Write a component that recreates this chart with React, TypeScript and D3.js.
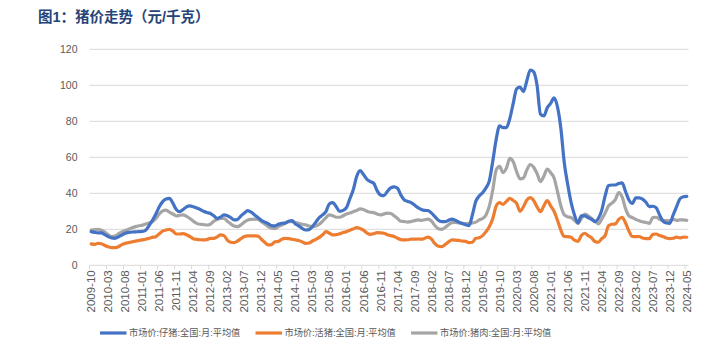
import React from 'react';
import * as d3 from 'd3';

// 月度数据：2009-10 至 2024-05
const startMonth = new Date(Date.UTC(2009, 9, 1));
const endMonth = new Date(Date.UTC(2024, 5, 1)); // exclusive
const months: string[] = d3.utcMonth.range(startMonth, endMonth).map(d => d3.utcFormat('%Y-%m')(d));

const seriesNames = ['市场价:仔猪:全国:月:平均值', '市场价:活猪:全国:月:平均值', '市场价:猪肉:全国:月:平均值'];
const seriesColors = ['#4472C4', '#ED7D31', '#A5A5A5'];

const piglet = [
	18.7, 18.3, 18.0, 18.0, 17.0, 16.0, 15.2, 15.0, 15.8, 16.8, 17.8, 18.2,
	18.5, 18.6, 18.7, 18.8, 19.5, 22.0, 25.0, 28.5, 32.5, 35.4, 36.8, 37.2,
	34.5, 31.0, 29.8, 31.0, 32.5, 33.0, 32.5, 31.8, 31.0, 30.0, 29.3, 28.8,
	27.5, 26.0, 26.8, 28.0, 27.5, 26.5, 25.2, 25.5, 27.5, 29.0, 30.4, 29.5,
	28.0, 26.5, 25.0, 24.0, 23.2, 22.0, 21.9, 22.8, 23.3, 23.5, 24.5, 24.8,
	23.0, 21.9, 20.5, 19.6, 19.8, 21.5, 24.0, 26.5, 28.0, 30.0, 34.2, 34.8,
	32.5, 30.0, 30.5, 32.0, 37.0, 42.0, 49.3, 52.6, 50.5, 47.8, 46.5, 45.6,
	41.5, 39.1, 38.7, 41.0, 43.0, 43.6, 42.8, 39.0, 36.3, 35.5, 34.8, 33.5,
	32.0, 31.0, 30.5, 30.4, 29.0, 27.0, 25.0, 24.3, 24.3, 25.0, 25.7, 25.0,
	24.0, 23.2, 22.5, 22.0, 28.0, 35.5, 38.5, 40.3, 43.0, 47.0, 58.0, 70.0,
	77.5, 76.5, 76.5, 81.5, 90.0, 98.0, 99.0, 96.5, 102.5, 108.5, 107.5, 100.0,
	84.0, 83.0, 87.5, 90.0, 93.0, 88.0, 76.0, 57.0, 45.0, 35.0, 28.0, 23.5,
	27.5, 27.5, 26.5, 25.5, 24.3, 26.0, 30.5, 38.5, 44.3, 44.6, 44.6, 45.5,
	45.8, 41.0, 36.3, 34.4, 37.5, 37.5, 36.8, 35.0, 32.6, 32.8, 32.0, 28.0,
	24.5, 23.5, 23.3, 28.0, 32.6, 37.0, 38.1, 38.3,
];

const liveHog = [
	11.9, 11.6, 12.2, 12.0, 11.0, 10.3, 9.8, 9.8, 10.3, 11.5, 12.2, 12.6,
	13.0, 13.4, 13.8, 14.1, 14.5, 15.0, 15.5, 15.9, 17.5, 19.0, 19.6, 20.0,
	19.0, 17.4, 17.4, 17.6, 17.0, 16.0, 14.8, 14.4, 14.2, 14.1, 14.3, 15.0,
	15.0, 15.8, 16.9, 16.5, 14.0, 12.8, 12.6, 13.5, 14.8, 16.0, 16.3, 16.3,
	16.3, 16.2, 14.5, 12.8, 11.3, 11.5, 13.1, 13.3, 14.5, 15.0, 14.8, 14.5,
	14.1, 13.8, 13.0, 12.2, 12.4, 13.5, 14.4, 15.5, 17.0, 18.7, 17.8, 16.9,
	17.0, 17.5, 18.2, 18.7, 19.5, 20.2, 20.9, 20.5, 19.5, 18.0, 17.2, 17.5,
	18.1, 18.0, 17.8, 17.0, 16.5, 16.0, 15.0, 14.3, 14.1, 14.2, 14.5, 14.5,
	14.6, 14.5, 15.0, 15.6, 14.5, 12.0, 10.6, 10.4, 11.5, 13.0, 14.1, 14.0,
	13.8, 13.5, 13.3, 12.6, 12.8, 15.0, 15.3, 16.5, 18.7, 21.5, 26.0, 33.0,
	34.8, 33.9, 35.5, 37.2, 36.0, 34.4, 30.0, 32.5, 36.3, 37.6, 36.0, 32.5,
	29.8, 33.0, 36.0, 33.0, 30.0, 25.0, 19.5, 16.0, 15.9, 15.5, 14.0, 13.3,
	16.5, 17.8, 16.5, 15.3, 13.2, 12.8, 14.8, 16.5, 22.0, 22.8, 23.0, 25.5,
	26.7, 23.5, 19.0, 16.0, 15.9, 16.0, 15.2, 14.8, 14.8, 17.2, 17.4, 16.5,
	16.0, 15.2, 14.8, 15.0, 15.6, 15.2, 15.7, 15.6,
];

const pork = [
	19.6, 19.8, 20.0, 19.5, 18.5, 17.0, 16.0, 16.2, 17.5, 18.5, 19.3, 20.0,
	20.8, 21.5, 22.0, 22.3, 23.0, 23.5, 24.3, 26.0, 28.5, 30.2, 30.7, 29.5,
	28.5, 27.4, 27.8, 28.0, 27.2, 26.0, 24.5, 23.3, 22.8, 22.6, 22.4, 22.8,
	24.5, 25.5, 26.0, 26.0, 24.5, 23.0, 21.8, 21.5, 22.5, 24.0, 25.2, 25.5,
	25.6, 25.5, 24.3, 23.0, 21.5, 20.6, 20.4, 21.5, 22.4, 23.3, 24.3, 24.3,
	23.8, 23.3, 22.8, 22.5, 21.8, 21.5, 21.8, 22.8, 24.5, 26.5, 28.0, 27.5,
	26.7, 26.7, 27.5, 28.5, 29.0, 29.8, 30.5, 31.3, 31.0, 30.0, 29.5, 29.3,
	28.5, 28.0, 28.5, 29.0, 28.8, 27.5, 26.0, 24.5, 24.3, 24.0, 24.3, 24.8,
	25.2, 25.0, 25.3, 25.6, 24.5, 22.0, 20.3, 20.0, 21.0, 22.5, 23.7, 23.8,
	23.5, 23.3, 23.2, 23.3, 23.5, 24.0, 25.2, 26.0, 28.0, 33.0, 42.0, 53.0,
	55.0, 51.5, 54.0, 59.4, 57.5, 52.0, 48.0, 48.5, 53.0, 56.0, 54.5, 51.0,
	46.5, 49.5, 53.5, 51.5, 48.5, 41.0, 33.0, 28.0, 27.0, 26.5, 25.0, 23.3,
	26.0, 28.5, 27.5, 26.2, 24.5, 23.0, 25.6, 29.0, 33.0, 34.5, 36.5, 40.4,
	38.0, 31.5, 27.5, 26.5, 25.5, 24.8, 24.2, 23.8, 23.3, 26.5, 26.7, 25.6,
	25.0, 24.8, 24.8, 25.5, 25.0, 25.2, 25.2, 25.0,
];

const yTicks = [0, 20, 40, 60, 80, 100, 120];
const labelEvery = 5;

const W = 717;
const H = 351;
const plotLeft = 89.5;
const plotRight = 688.5;
const plotTop = 49.3;
const plotBottom = 265.3;
const font = '"Liberation Sans", Arial, "Noto Sans CJK SC", sans-serif';

const App: React.FC = () => {
	const x = d3.scaleBand<string>().domain(months).range([plotLeft, plotRight]);
	const y = d3.scaleLinear().domain([0, 120]).range([plotBottom, plotTop]);
	const cx = (m: string) => (x(m) ?? 0) + x.bandwidth() / 2;

	const line = d3.line<number>()
		.x((_, i) => cx(months[i]))
		.y(d => y(d))
		.curve(d3.curveMonotoneX);

	const allSeries = [piglet, liveHog, pork];
	// 画线顺序：灰色在下，蓝色最上
	const drawOrder = [2, 1, 0];

	const tickIdx = d3.range(0, months.length + 1, labelEvery);

	return (
		<div style={{ position: 'fixed', left: 0, top: 0 }}>
			<svg width={W} height={H} style={{ display: 'block', background: '#fff' }}>
				<text x={38} y={22} fontFamily={font} fontSize={14.5} fontWeight="bold" fill="#264478">
					图1：猪价走势（元/千克）
				</text>

				{/* gridlines */}
				{yTicks.map(t => (
					<g key={t}>
						<line x1={plotLeft} x2={plotRight} y1={y(t)} y2={y(t)} stroke="#d9d9d9" strokeWidth={1} />
						<text x={77.5} y={y(t)} dy="0.35em" textAnchor="end" fontFamily={font} fontSize={10.5} fill="#595959">
							{t}
						</text>
					</g>
				))}

				{/* x ticks */}
				{tickIdx.map(i => {
					const xx = plotLeft + i * x.step();
					return <line key={'t' + i} x1={xx} x2={xx} y1={plotBottom} y2={plotBottom + 4} stroke="#d9d9d9" />;
				})}

				{/* x labels */}
				{months.filter((_, i) => i % labelEvery === 0).map(m => (
					<text key={m} transform={`translate(${cx(m)},${plotBottom + 5}) rotate(-90)`}
						textAnchor="end" dy="0.35em" fontFamily={font} fontSize={11.5} fill="#595959">
						{m}
					</text>
				))}

				{drawOrder.map(s => (
					<path key={s} d={line(allSeries[s]) ?? ''} fill="none" stroke={seriesColors[s]}
						strokeWidth={3.2} strokeLinejoin="round" strokeLinecap="round" />
				))}

				{/* legend */}
				{seriesNames.map((name, i) => {
					const lx = 100 + i * 155.5;
					return (
						<g key={name}>
							<line x1={lx} x2={lx + 26.5} y1={333} y2={333} stroke={seriesColors[i]} strokeWidth={3.2} />
							<text x={lx + 29} y={333} dy="0.35em" fontFamily={font} fontSize={9.2} fill="#595959">{name}</text>
						</g>
					);
				})}
			</svg>
		</div>
	);
};

export default App;
